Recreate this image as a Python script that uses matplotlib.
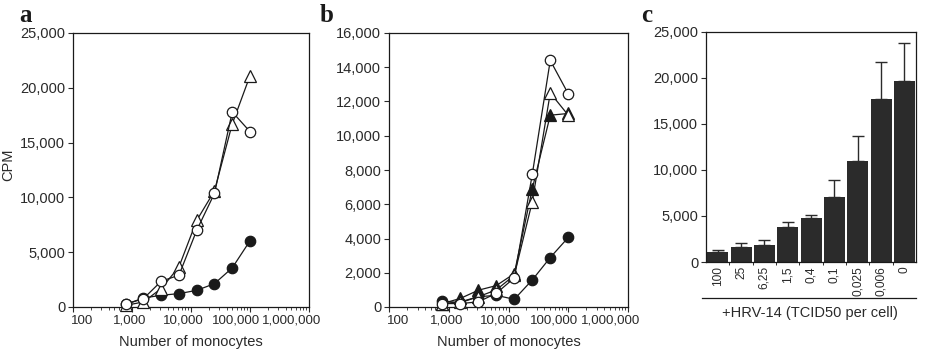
import matplotlib
matplotlib.use("Agg")
import matplotlib.pyplot as plt
from matplotlib.lines import Line2D
from matplotlib.transforms import ScaledTranslation
from matplotlib.ticker import FuncFormatter, FixedLocator, LogLocator, NullFormatter, MultipleLocator
import numpy as np

plt.rcParams['font.family'] = ['Liberation Sans', 'DejaVu Sans']

# ---- data ----
cells = [781, 1562, 3125, 6250, 12500, 25000, 50000, 100000]

a_open_tri = [150, 460, 1680, 3660, 7900, 10600, 16700, 21100]
a_open_circ = [250, 760, 2350, 2900, 7000, 10370, 17800, 16000]
a_filled_circ = [240, 820, 1070, 1220, 1520, 2130, 3570, 6040]

b_open_circ = [200, 200, 300, 800, 1700, 7750, 14400, 12450]
b_open_tri = [200, 300, 600, 1000, 1850, 6150, 12500, 11200]
b_filled_tri = [200, 500, 980, 1250, 1950, 6900, 11200, 11300]
b_filled_circ = [350, 250, 600, 680, 450, 1580, 2890, 4060]

c_labels = ["100", "25", "6,25", "1,5", "0,4", "0,1", "0,025", "0,006", "0"]
c_values = [1100, 1650, 1890, 3815, 4830, 7085, 10940, 17730, 19620]
c_err = [250, 450, 470, 545, 260, 1815, 2760, 4000, 4180]

x_ticks = [100, 1000, 10000, 100000, 1000000]

W, H = 934, 358
fig = plt.figure(figsize=(W / 100, H / 100), dpi=100)

txt = '#2a2a2a'
lc = '#1a1a1a'
fs = 10.5

def comma_fmt(v, pos):
    return f"{int(round(v)):,}"

def style_log_axis(ax, ymax, ystep):
    ax.set_xscale('log')
    ax.set_xlim(100, 1000000)
    ax.set_ylim(0, ymax)
    ax.xaxis.set_major_locator(FixedLocator(x_ticks))
    ax.xaxis.set_minor_locator(LogLocator(base=10, subs=np.arange(2, 10)))
    ax.xaxis.set_minor_formatter(NullFormatter())
    ax.xaxis.set_major_formatter(FuncFormatter(comma_fmt))
    ax.yaxis.set_major_locator(MultipleLocator(ystep))
    ax.yaxis.set_major_formatter(FuncFormatter(comma_fmt))
    ax.tick_params(axis='both', which='major', direction='out', length=3.5, width=0.8,
                   labelsize=fs, colors=txt, pad=2)
    ax.tick_params(axis='x', which='major', labelsize=9.6)
    ax.tick_params(axis='x', which='minor', direction='out', length=2, width=0.6, colors=txt)
    for s in ax.spines.values():
        s.set_linewidth(0.9)
        s.set_color(lc)
    ax.set_xlabel("Number of monocytes", fontsize=fs, color=txt, labelpad=6)

def plot_series(ax, y, marker, filled):
    ax.plot(cells, y, color=lc, lw=0.9, marker=marker, ms=7.5 if marker == 'o' else 8,
            mfc=lc if filled else 'white', mec=lc, mew=0.9, clip_on=False, zorder=3)

# panel a
axa = fig.add_axes([73 / W, 1 - 307 / H, 236 / W, 274 / H])
style_log_axis(axa, 25000, 5000)
plot_series(axa, a_filled_circ, 'o', True)
plot_series(axa, a_open_tri, '^', False)
plot_series(axa, a_open_circ, 'o', False)

# panel b
axb = fig.add_axes([389 / W, 1 - 307 / H, 239 / W, 274 / H])
style_log_axis(axb, 16000, 2000)
plot_series(axb, b_filled_circ, 'o', True)
plot_series(axb, b_filled_tri, '^', True)
plot_series(axb, b_open_tri, '^', False)
plot_series(axb, b_open_circ, 'o', False)

# panel c
axc = fig.add_axes([706 / W, 1 - 262 / H, 210 / W, 230 / H])
xpos = np.arange(len(c_labels))
axc.bar(xpos, c_values, width=0.9, color='#2b2b2b', edgecolor='none', zorder=2)
axc.errorbar(xpos, c_values, yerr=[np.zeros(len(c_err)), c_err], fmt='none',
             ecolor='#2b2b2b', elinewidth=1.0, capsize=4, capthick=1.0, zorder=1)
axc.set_xlim(-0.5, len(c_labels) - 0.5)
axc.set_ylim(0, 25000)
axc.yaxis.set_major_locator(MultipleLocator(5000))
axc.yaxis.set_major_formatter(FuncFormatter(comma_fmt))
axc.set_xticks(xpos)
axc.set_xticklabels(c_labels, rotation=90, fontsize=8.6, color=txt)
axc.set_xticks(xpos[:-1] + 0.5, minor=True)
axc.tick_params(axis='x', which='major', length=0, pad=3)
axc.tick_params(axis='x', which='minor', direction='out', length=2.5, width=0.7, colors=txt)
axc.tick_params(axis='y', which='major', direction='out', length=3.5, width=0.8,
                labelsize=fs, colors=txt, pad=2)
for s in axc.spines.values():
    s.set_linewidth(0.9)
    s.set_color(lc)

fig.add_artist(Line2D([702 / W, 916 / W], [1 - 298 / H, 1 - 298 / H],
                      transform=fig.transFigure, color=lc, lw=0.9))
fig.text(810 / W, 1 - 313 / H, "+HRV-14 (TCID50 per cell)", ha='center', va='center',
         fontsize=fs, color=txt)

fig.text(8 / W, 1 - 165 / H, "CPM", rotation=90, ha='center', va='center',
         fontsize=fs, color=txt)

for lab, xp in [("a", 25), ("b", 327), ("c", 647)]:
    fig.text(xp / W, 1 - 15 / H, lab, ha='center', va='center', fontsize=18,
             fontweight='bold', family=['Liberation Serif', 'DejaVu Serif'], color='#1a1a1a')

# shift log-axis tick labels the way the original layout places them
fig.canvas.draw()
shifts_px = [9, -2, -8, -14, -17]
for ax in (axa, axb):
    for lbl, dx in zip(ax.get_xticklabels(), shifts_px):
        lbl.set_transform(lbl.get_transform() + ScaledTranslation(dx / 100, 0, fig.dpi_scale_trans))

fig.savefig("out.png", dpi=100)
